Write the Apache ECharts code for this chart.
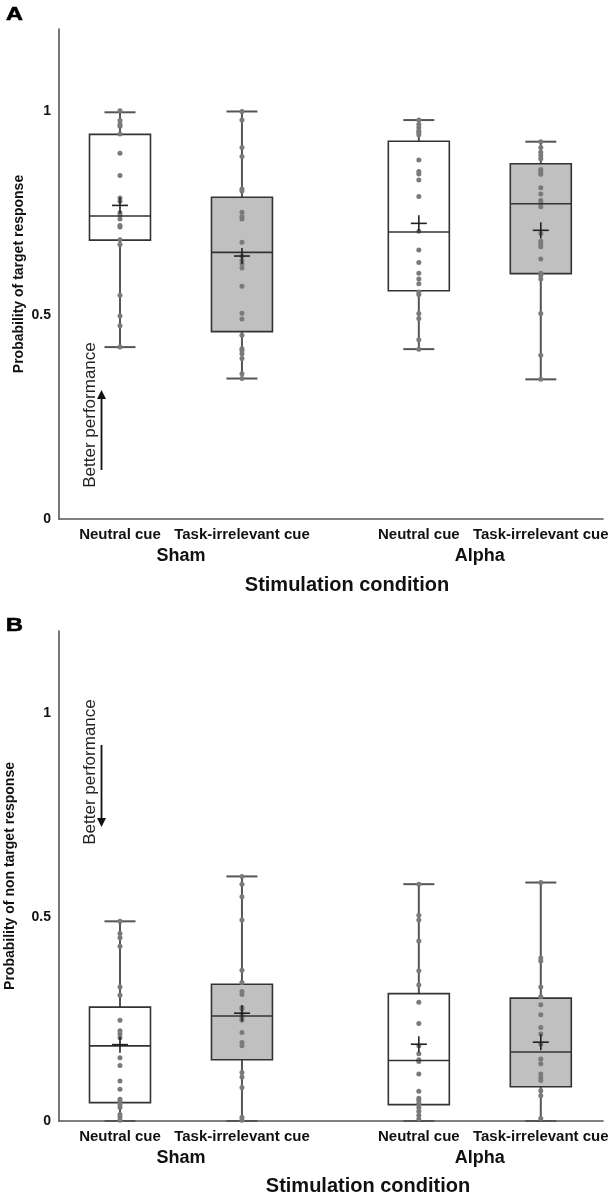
<!DOCTYPE html>
<html><head><meta charset="utf-8">
<script src="https://cdn.jsdelivr.net/npm/echarts@6/dist/echarts.min.js"></script>
<style>html,body{margin:0;padding:0;background:#fff}#c{width:614px;height:1199px}</style>
</head><body><div id="c"></div>
<script>
// ---------------- DATA ----------------
const conditions = ['Neutral cue', 'Task-irrelevant cue', 'Neutral cue', 'Task-irrelevant cue'];
const groups = ['Sham', 'Alpha'];
const yTickLabels = ['0', '0.5', '1'];
const xAxisTitle = 'Stimulation condition';
const yTitleA = 'Probability of target response';
const yTitleB = 'Probability of non target response';

// Panel A: individual participant values
const shamNeutralA = [1.0, 0.976, 0.967, 0.962, 0.943, 0.896, 0.841, 0.786, 0.778, 0.750, 0.743, 0.735, 0.719, 0.715, 0.684, 0.672, 0.548, 0.497, 0.473, 0.421];
const shamTaskA = [0.998, 0.977, 0.910, 0.888, 0.808, 0.803, 0.751, 0.741, 0.735, 0.678, 0.644, 0.633, 0.625, 0.615, 0.570, 0.504, 0.490, 0.450, 0.417, 0.413, 0.405, 0.393, 0.356, 0.344];
const alphaNeutralA = [0.977, 0.967, 0.959, 0.951, 0.947, 0.941, 0.879, 0.851, 0.845, 0.830, 0.790, 0.705, 0.659, 0.628, 0.602, 0.588, 0.576, 0.556, 0.550, 0.503, 0.491, 0.439, 0.416];
const alphaTaskA = [0.924, 0.910, 0.898, 0.890, 0.882, 0.856, 0.851, 0.844, 0.811, 0.796, 0.780, 0.774, 0.765, 0.699, 0.680, 0.674, 0.667, 0.637, 0.602, 0.597, 0.588, 0.503, 0.401, 0.342];
// Panel A box statistics [min, q1, median, q3, max]
const boxStatsA = [
  [0.421, 0.683, 0.742, 0.942, 0.996],
  [0.344, 0.459, 0.653, 0.788, 0.998],
  [0.416, 0.559, 0.703, 0.925, 0.977],
  [0.342, 0.601, 0.772, 0.870, 0.924]
];
const meansA = [0.768, 0.644, 0.724, 0.707];

// Panel B: individual participant values
const shamNeutralB = [0.489, 0.459, 0.449, 0.428, 0.328, 0.308, 0.247, 0.221, 0.213, 0.204, 0.155, 0.136, 0.098, 0.078, 0.053, 0.047, 0.041, 0.033, 0.016, 0.010, 0.002];
const shamTaskB = [0.599, 0.580, 0.549, 0.492, 0.369, 0.339, 0.317, 0.310, 0.278, 0.274, 0.262, 0.253, 0.247, 0.217, 0.192, 0.184, 0.119, 0.108, 0.082, 0.009, 0.002];
const alphaNeutralB = [0.580, 0.504, 0.492, 0.441, 0.368, 0.333, 0.291, 0.239, 0.184, 0.165, 0.150, 0.146, 0.115, 0.073, 0.056, 0.050, 0.043, 0.033, 0.024, 0.014, 0.005];
const alphaTaskB = [0.584, 0.399, 0.392, 0.328, 0.304, 0.285, 0.260, 0.229, 0.213, 0.188, 0.152, 0.140, 0.115, 0.106, 0.099, 0.074, 0.062, 0.006];
const boxStatsB = [
  [0, 0.045, 0.184, 0.279, 0.489],
  [0, 0.150, 0.257, 0.335, 0.599],
  [0, 0.040, 0.148, 0.312, 0.580],
  [0, 0.084, 0.169, 0.301, 0.584]
];
const meansB = [0.187, 0.264, 0.188, 0.193];

// ---------------- LAYOUT / STYLE ----------------
const BOX_POS = [1, 2, 3.45, 4.45];       // x positions of boxes on the value axis
const GROUP_POS = [1.5, 3.95];
const X_MIN = 0.5, X_MAX = 4.96;
const Y_MIN = 0, Y_MAX = 1.2, Y_INT = 0.5;
const BOX_W = 0.5;                          // axis units
const CAP_HALF = 15.5, CROSS_HALF = 8;      // px
const FILLS = ['#ffffff', '#c0c0c0'];
const BOX_STROKE = '#333333', WHISK = '#555555', DOT = '#7a7a7a', AXIS = '#555555', TXT = '#111111';
const FONT = 'Liberation Sans, Arial, Helvetica, sans-serif';

const panels = [
  {top: 29, stats: boxStatsA, means: meansA, pts: [shamNeutralA, shamTaskA, alphaNeutralA, alphaTaskA], yTitle: yTitleA, nameGap: 33},
  {top: 631, stats: boxStatsB, means: meansB, pts: [shamNeutralB, shamTaskB, alphaNeutralB, alphaTaskB], yTitle: yTitleB, nameGap: 42}
];
const GRID_H = 490, GRID_L = 59, GRID_W = 544;

function yLabel(v) {
  for (const t of yTickLabels) if (Math.abs(Number(t) - v) < 1e-9) return t;
  return '';
}
function nearestIdx(arr, v) {
  let b = 0; for (let i = 1; i < arr.length; i++) if (Math.abs(arr[i] - v) < Math.abs(arr[b] - v)) b = i; return b;
}

function renderBox(params, api) {
  const x = api.value(0);
  const pMin = api.coord([x, api.value(1)]), pQ1 = api.coord([x, api.value(2)]);
  const pQ3 = api.coord([x, api.value(4)]), pMax = api.coord([x, api.value(5)]);
  const hw = api.size([BOX_W, 0])[0] / 2;
  const cx = pMin[0];
  const ws = {stroke: WHISK, lineWidth: 2};
  return {type: 'group', children: [
    {type: 'line', shape: {x1: cx, y1: pQ3[1], x2: cx, y2: pMax[1]}, style: ws},
    {type: 'line', shape: {x1: cx, y1: pQ1[1], x2: cx, y2: pMin[1]}, style: ws},
    {type: 'line', shape: {x1: cx - CAP_HALF, y1: pMax[1], x2: cx + CAP_HALF, y2: pMax[1]}, style: ws},
    {type: 'line', shape: {x1: cx - CAP_HALF, y1: pMin[1], x2: cx + CAP_HALF, y2: pMin[1]}, style: ws},
    {type: 'rect', shape: {x: cx - hw, y: pQ3[1], width: 2 * hw, height: pQ1[1] - pQ3[1]},
      style: {fill: FILLS[params.dataIndex % 2], stroke: BOX_STROKE, lineWidth: 1.6}}
  ]};
}
function renderMid(params, api) {
  const x = api.value(0);
  const pMd = api.coord([x, api.value(1)]), pMean = api.coord([x, api.value(2)]);
  const hw = api.size([BOX_W, 0])[0] / 2;
  const cx = pMd[0];
  const cs = {stroke: '#222222', lineWidth: 1.6};
  return {type: 'group', children: [
    {type: 'line', shape: {x1: cx - hw, y1: pMd[1], x2: cx + hw, y2: pMd[1]}, style: {stroke: BOX_STROKE, lineWidth: 1.6}},
    {type: 'line', shape: {x1: cx - CROSS_HALF, y1: pMean[1], x2: cx + CROSS_HALF, y2: pMean[1]}, style: cs},
    {type: 'line', shape: {x1: cx, y1: pMean[1] - CROSS_HALF, x2: cx, y2: pMean[1] + CROSS_HALF}, style: cs}
  ]};
}

const grid = [], xAxis = [], yAxis = [], series = [];
panels.forEach((p, gi) => {
  grid.push({left: GRID_L, top: p.top, width: GRID_W, height: GRID_H, containLabel: false, outerBoundsMode: 'none'});
  xAxis.push({
    gridIndex: gi, type: 'value', min: X_MIN, max: X_MAX, position: 'bottom',
    axisLine: {show: true, onZero: false, lineStyle: {color: AXIS, width: 1.6}},
    axisTick: {show: false}, splitLine: {show: false},
    axisLabel: {customValues: BOX_POS, formatter: v => conditions[nearestIdx(BOX_POS, v)],
      color: TXT, fontWeight: 'bold', fontSize: 15, fontFamily: FONT, margin: 8}
  });
  xAxis.push({
    gridIndex: gi, type: 'value', min: X_MIN, max: X_MAX, position: 'bottom', offset: 20,
    axisLine: {show: false}, axisTick: {show: false}, splitLine: {show: false},
    axisLabel: {customValues: GROUP_POS, formatter: v => groups[nearestIdx(GROUP_POS, v)],
      color: TXT, fontWeight: 'bold', fontSize: 18, fontFamily: FONT, margin: 8}
  });
  yAxis.push({
    gridIndex: gi, type: 'value', min: Y_MIN, max: Y_MAX, interval: Y_INT,
    axisLine: {show: true, onZero: false, lineStyle: {color: AXIS, width: 1.6}},
    axisTick: {show: false}, splitLine: {show: false},
    axisLabel: {formatter: yLabel, color: TXT, fontWeight: 'bold', fontSize: 14, fontFamily: FONT, margin: 8},
    name: p.yTitle, nameLocation: 'middle', nameGap: p.nameGap, nameMoveOverlap: false,
    nameTextStyle: {color: TXT, fontWeight: 'bold', fontSize: 14, fontFamily: FONT}
  });
  const xi = gi * 2;
  series.push({
    type: 'custom', xAxisIndex: xi, yAxisIndex: gi, renderItem: renderBox, clip: false, z: 1,
    encode: {x: 0, y: [1, 2, 3, 4, 5]},
    data: p.stats.map((s, i) => [BOX_POS[i]].concat(s))
  });
  p.pts.forEach((arr, i) => {
    series.push({
      type: 'scatter', xAxisIndex: xi, yAxisIndex: gi, z: 2, symbolSize: 5,
      itemStyle: {color: DOT, opacity: 1}, data: arr.map(v => [BOX_POS[i], v])
    });
  });
  series.push({
    type: 'custom', xAxisIndex: xi, yAxisIndex: gi, renderItem: renderMid, clip: false, z: 3,
    encode: {x: 0, y: [1, 2]},
    data: p.stats.map((s, i) => [BOX_POS[i], s[2], p.means[i]])
  });
});

function arrowGraphics(x, yStart, yTip) {
  const dir = yTip < yStart ? -1 : 1;
  const base = yTip - dir * 9;
  return [
    {type: 'line', shape: {x1: x, y1: yStart, x2: x, y2: base}, style: {stroke: '#111', lineWidth: 1.8}},
    {type: 'polygon', shape: {points: [[x, yTip], [x - 4.5, base], [x + 4.5, base]]}, style: {fill: '#111'}}
  ];
}

const panelLetter = (t, top) => ({type: 'text', x: 6, y: top, scaleX: 1.3,
  style: {text: t, font: 'bold 18px ' + FONT, fill: '#000', stroke: '#000', lineWidth: 0.6, textVerticalAlign: 'top'}});

const graphic = [
  panelLetter('A', 6),
  panelLetter('B', 617),
  {type: 'text', x: 347, y: 585, style: {text: xAxisTitle, font: 'bold 20px ' + FONT, fill: TXT, textAlign: 'center', textVerticalAlign: 'middle'}},
  {type: 'text', x: 368, y: 1186, style: {text: xAxisTitle, font: 'bold 20px ' + FONT, fill: TXT, textAlign: 'center', textVerticalAlign: 'middle'}},
  {type: 'text', x: 90, y: 415, rotation: Math.PI / 2, style: {text: 'Better performance', font: '17px ' + FONT, fill: '#222', textAlign: 'center', textVerticalAlign: 'middle'}},
  {type: 'text', x: 90, y: 772, rotation: Math.PI / 2, style: {text: 'Better performance', font: '17px ' + FONT, fill: '#222', textAlign: 'center', textVerticalAlign: 'middle'}}
].concat(arrowGraphics(101.5, 470, 390), arrowGraphics(101.5, 745, 827));

const chart = echarts.init(document.getElementById('c'));
chart.setOption({
  animation: false, backgroundColor: '#ffffff',
  grid, xAxis, yAxis, series, graphic
});
</script></body></html>
